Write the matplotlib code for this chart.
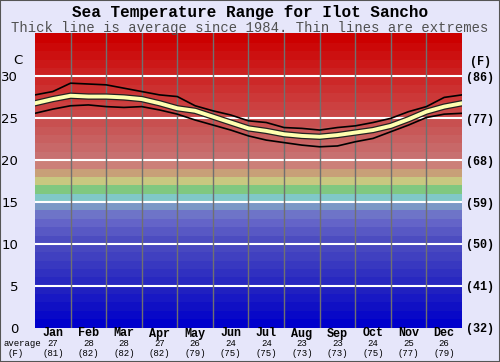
import numpy as np
import matplotlib
matplotlib.use("Agg")
import matplotlib.pyplot as plt
import matplotlib.patheffects as pe
from matplotlib.patches import Rectangle

# month positions (0 = 1 Jan, 12 = 31 Dec), half-month spacing
months = ["Jan", "Feb", "Mar", "Apr", "May", "Jun",
          "Jul", "Aug", "Sep", "Oct", "Nov", "Dec"]
t = [0, 0.5, 1, 1.5, 2, 2.5, 3, 3.5, 4, 4.5, 5, 5.5, 6,
     6.5, 7, 7.5, 8, 8.5, 9, 9.5, 10, 10.5, 11, 11.5, 12]

avg = [26.8, 27.3, 27.7, 27.6, 27.6, 27.5, 27.3, 26.8, 26.2, 25.9, 25.2, 24.5, 23.8,
       23.5, 23.1, 22.9, 22.8, 23.0, 23.3, 23.6, 24.1, 24.9, 25.8, 26.4, 26.8]
tmax = [27.8, 28.2, 29.2, 29.1, 29.0, 28.6, 28.2, 27.8, 27.6, 26.5, 25.9, 25.4, 24.7,
        24.5, 23.9, 23.8, 23.6, 23.9, 24.1, 24.5, 25.0, 25.8, 26.4, 27.5, 27.8]
tmin = [25.6, 26.1, 26.5, 26.6, 26.4, 26.3, 26.4, 26.0, 25.5, 24.8, 24.2, 23.6, 22.9,
        22.4, 22.1, 21.8, 21.6, 21.7, 22.2, 22.6, 23.4, 24.2, 25.1, 25.5, 25.6]

avg_c = [27, 28, 28, 27, 26, 24, 24, 23, 23, 24, 25, 26]
avg_f = [81, 82, 82, 82, 79, 75, 75, 73, 73, 75, 77, 79]

c_ticks = [0, 5, 10, 15, 20, 25, 30]
f_ticks = ["(32)", "(41)", "(50)", "(59)", "(68)", "(77)", "(86)"]

# one colour per 1 degree C band, from 0 upwards
band_colors = ["#0000CC", "#0808C8", "#1010C4", "#1818C4", "#2020C0", "#2828C0",
               "#3030C0", "#3838C0", "#4040C0", "#4848C0", "#4C4CC0", "#5858C4",
               "#6464C8", "#6E74C8", "#7A98C6", "#80C8C8", "#80C880", "#C8C880",
               "#C8A078", "#CC8078", "#C87070", "#C86868", "#C86060", "#C85858",
               "#C85050", "#C84848", "#CC4040", "#CC3838", "#CC3030", "#CC2828",
               "#CC2020", "#CC1818", "#CC1010", "#CC0808", "#CC0000", "#CC0000"]

bg = "#E6E6FA"
mono = "Liberation Mono"

fig = plt.figure(figsize=(5.0, 3.62), dpi=100, facecolor=bg)
ax = fig.add_axes([0.07, 0.095, 0.854, 0.814])

for i, c in enumerate(band_colors):
    ax.axhspan(i, i + 1, color=c, lw=0, zorder=0)

for y in c_ticks[1:]:
    ax.axhline(y, color="white", lw=1.5, zorder=1)
for m in range(1, 12):
    ax.axvline(m, color="#707070", lw=1, zorder=1)

ax.plot(t, tmax, color="black", lw=1.2, zorder=3)
ax.plot(t, tmin, color="black", lw=1.2, zorder=3)
ax.plot(t, avg, color="#FFFFB0", lw=2.8, zorder=4,
        path_effects=[pe.Stroke(linewidth=4.6, foreground="#222222"), pe.Normal()])

ax.set_xlim(0, 12)
ax.set_ylim(0, 35.2)
ax.set_xticks([])
ax.set_yticks(c_ticks)
ax.set_yticklabels([str(v) for v in c_ticks], fontsize=9.5, family="DejaVu Sans")
ax.tick_params(axis="y", length=0, pad=12)
for s in ax.spines.values():
    s.set_visible(False)

ax2 = ax.twinx()
ax2.set_ylim(ax.get_ylim())
ax2.set_yticks(c_ticks)
ax2.set_yticklabels(f_ticks, fontsize=8.5, family=mono, weight="bold")
ax2.tick_params(axis="y", length=0, pad=3)
for s in ax2.spines.values():
    s.set_visible(False)

fig.text(18 / 500, 1 - 61 / 362, "C", fontsize=9.5, ha="center", va="center")
fig.text(480 / 500, 1 - 62 / 362, "(F)", fontsize=8.5, family=mono, weight="bold",
         ha="center", va="center")

# rows under the plot, in figure pixels from the top
row_month, row_c, row_f = 333.5, 343.5, 353.5
for i, m in enumerate(months):
    xf = 0.07 + 0.854 * (i + 0.5) / 12
    fig.text(xf, 1 - row_month / 362, m, ha="center", va="center",
             fontsize=8.5, family=mono, weight="bold")
    fig.text(xf, 1 - row_c / 362, str(avg_c[i]), ha="center", va="center",
             fontsize=6.5, family=mono)
    fig.text(xf, 1 - row_f / 362, "(%d)" % avg_f[i], ha="center", va="center",
             fontsize=6.5, family=mono)

fig.text(22 / 500, 1 - row_c / 362, "average", fontsize=6.5, family=mono,
         ha="center", va="center")
fig.text(16 / 500, 1 - row_f / 362, "(F)", fontsize=6.5, family=mono,
         ha="center", va="center")

fig.text(0.5, 1 - 12.5 / 362, "Sea Temperature Range for Ilot Sancho",
         fontsize=11.5, family=mono, weight="bold", ha="center", va="center")
fig.text(0.5, 1 - 28 / 362, "Thick line is average since 1984. Thin lines are extremes",
         fontsize=10, family=mono, color="#505050", ha="center", va="center")

fig.patches.append(Rectangle((0, 0), 1, 1, transform=fig.transFigure, fill=False,
                             edgecolor="#555555", lw=1.5))

fig.savefig("out.png", dpi=100, facecolor=bg)
